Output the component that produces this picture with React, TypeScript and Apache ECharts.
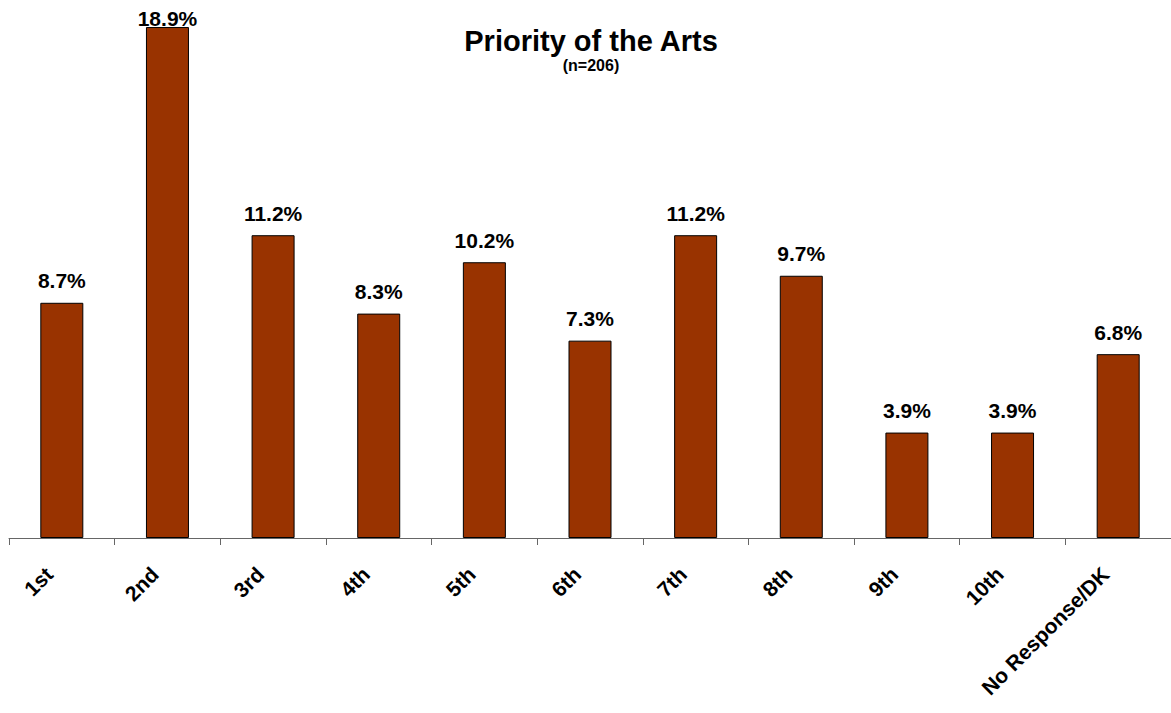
import React, { useEffect, useRef } from "react";
import * as echarts from "echarts";

const categories = ["1st", "2nd", "3rd", "4th", "5th", "6th", "7th", "8th", "9th", "10th", "No Response/DK"];
const values = [8.7, 18.9, 11.2, 8.3, 10.2, 7.3, 11.2, 9.7, 3.9, 3.9, 6.8];
const titleText = "Priority of the Arts";
const subtitleText = "(n=206)";

const FONT = "'Liberation Sans', Arial, sans-serif";

export default function App() {
  const ref = useRef<HTMLDivElement>(null);
  useEffect(() => {
    if (!ref.current) return;
    const chart = echarts.init(ref.current, null, { renderer: "svg" });
    const maxVal = Math.max(...values);
    const seriesData = values.map((v) =>
      v === maxVal ? { value: v, label: { distance: -2 } } : v
    );
    chart.setOption({
      animation: false,
      backgroundColor: "#ffffff",
      title: [
        {
          text: titleText,
          left: 591,
          textAlign: "center",
          top: 26,
          padding: 0,
          textStyle: { fontFamily: FONT, fontWeight: "bold", fontSize: 29, color: "#000" },
        },
        {
          text: subtitleText,
          left: 591,
          textAlign: "center",
          top: 57,
          padding: 0,
          textStyle: { fontFamily: FONT, fontWeight: "bold", fontSize: 16, color: "#000" },
        },
      ],
      grid: { left: 9, top: 0, width: 1164, height: 538, containLabel: false },
      xAxis: {
        type: "category",
        data: categories,
        axisLine: { lineStyle: { color: "#666", width: 1 } },
        axisTick: { show: true, length: 7, lineStyle: { color: "#666" } },
        axisLabel: {
          rotate: 45,
          interval: 0,
          margin: 20,
          padding: [0, 18, 0, 0],
          fontFamily: FONT,
          fontWeight: "bold",
          fontSize: 21,
          color: "#000",
        },
      },
      yAxis: {
        type: "value",
        min: 0,
        max: 19.9,
        show: false,
        splitLine: { show: false },
      },
      series: [
        {
          type: "bar",
          data: seriesData,
          barWidth: 43,
          itemStyle: { color: "#993300", borderColor: "#000", borderWidth: 1 },
          label: {
            show: true,
            position: "top",
            distance: 11.5,
            formatter: (p: any) => Number(p.value).toFixed(1) + "%",
            fontFamily: FONT,
            fontWeight: "bold",
            fontSize: 21,
            color: "#000",
          },
        },
      ],
    });
    return () => chart.dispose();
  }, []);
  return (
    <div
      ref={ref}
      style={{ position: "absolute", left: 0, top: 0, width: 1171, height: 713 }}
    />
  );
}
